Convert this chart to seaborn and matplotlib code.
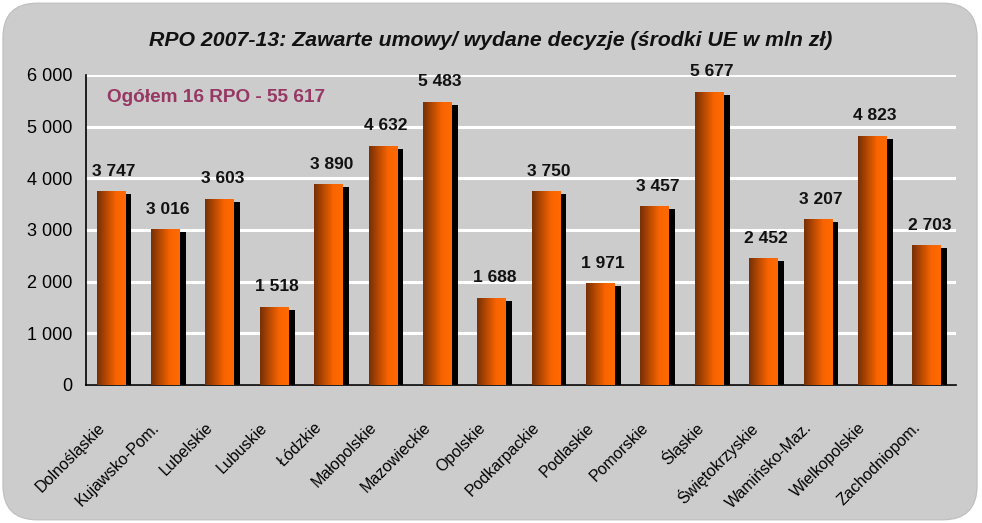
import numpy as np
import pandas as pd
import matplotlib
matplotlib.use('Agg')
import matplotlib.pyplot as plt
import matplotlib.transforms as mtransforms
from matplotlib.patches import FancyBboxPatch, Rectangle
from matplotlib.colors import LinearSegmentedColormap
import seaborn as sns

# data
regions = ['Dolnośląskie', 'Kujawsko-Pom.', 'Lubelskie', 'Lubuskie', 'Łódzkie',
           'Małopolskie', 'Mazowieckie', 'Opolskie', 'Podkarpackie', 'Podlaskie',
           'Pomorskie', 'Śląskie', 'Świętokrzyskie', 'Wamińsko-Maz.',
           'Wielkopolskie', 'Zachodniopom.']
values = [3747, 3016, 3603, 1518, 3890, 4632, 5483, 1688, 3750, 1971,
          3457, 5677, 2452, 3207, 4823, 2703]
title = 'RPO 2007-13: Zawarte umowy/ wydane decyzje (środki UE w mln zł)'
note = 'Ogółem 16 RPO - 55 617'

df = pd.DataFrame({'region': regions, 'value': values})

sns.set_style('white')
plt.rcParams['font.family'] = ['Liberation Sans', 'DejaVu Sans']

bg = '#CCCCCC'
fig = plt.figure(figsize=(9.82, 5.23), dpi=100, facecolor='white')
# rounded grey panel behind everything
panel = FancyBboxPatch((0.003, 0.006), 0.992, 0.988, boxstyle='round,pad=0,rounding_size=0.035',
                       transform=fig.transFigure, facecolor=bg, edgecolor='#bdbdbd',
                       linewidth=0.8, mutation_aspect=982/523, zorder=-10)
fig.patches.append(panel)

ax = fig.add_axes([0.0876, 0.2639, 0.886, 0.5927])
ax.set_facecolor(bg)
ax.set_zorder(1)

sns.barplot(data=df, x='region', y='value', width=0.53, color='#FF6600',
            edgecolor='none', ax=ax, zorder=3)

cmap = LinearSegmentedColormap.from_list('org', ['#773006', '#B94A02', '#F96400', '#FF6A04'])
grad = np.linspace(0, 1, 64).reshape(1, -1)
shift = -0.04
for p in list(ax.patches):
    p.set_x(p.get_x() + shift)
    x0, w, h = p.get_x(), p.get_width(), p.get_height()
    # black shadow right of the bar
    sh = Rectangle((x0 + 0.11, 0), w, h - 58, facecolor='black', edgecolor='none', zorder=2)
    ax.add_patch(sh)
    im = ax.imshow(grad, cmap=cmap, aspect='auto', extent=(x0, x0 + w, 0, h), zorder=4)
    im.set_clip_path(p)
    p.set_facecolor('none')

for i, v in enumerate(values):
    ax.annotate(f'{v:,}'.replace(',', ' '), (i + 0.01, v), xytext=(0, 9), textcoords='offset points',
                ha='center', va='bottom', fontsize=12.5, fontweight='bold', color='#111111', zorder=6)

ax.set_xlim(-0.5, len(regions) - 0.5)
ax.set_ylim(0, 6000)
ax.set_yticks(range(0, 6001, 1000))
ax.set_yticklabels([f'{t:,}'.replace(',', ' ') for t in range(0, 6001, 1000)], fontsize=13)
ax.yaxis.grid(True, color='white', linewidth=2.2, zorder=1)
ax.set_axisbelow(True)
ax.set_xlabel('')
ax.set_ylabel('')

ax.set_xticks(range(len(regions)))
ax.set_xticklabels(regions, rotation=45, ha='right', va='center', rotation_mode='anchor', fontsize=11.5)
ax.set_xticks(np.arange(-0.5, len(regions), 1), minor=True)
ax.tick_params(axis='x', which='major', length=0, pad=29, labelcolor='black')
ax.tick_params(axis='x', which='minor', length=5, width=1, color='black', direction='out')
ax.tick_params(axis='y', length=4, width=1, color='black', direction='out', pad=6, labelcolor='black')
off = mtransforms.ScaledTranslation(-11 / 100, 0, fig.dpi_scale_trans)
for lab in ax.get_xticklabels():
    lab.set_transform(lab.get_transform() + off)

for s in ['top', 'right']:
    ax.spines[s].set_visible(False)
for s in ['left', 'bottom']:
    ax.spines[s].set_color('black')
    ax.spines[s].set_linewidth(1.2)

fig.text(0.5, 0.923, title, ha='center', va='center', fontsize=15.3, fontweight='bold',
         fontstyle='italic', color='#111111')
ax.text(0.024, 0.927, note, transform=ax.transAxes, ha='left', va='center', fontsize=13.7,
        fontweight='bold', color='#963764')

fig.savefig('out.png', dpi=100, facecolor='white')
